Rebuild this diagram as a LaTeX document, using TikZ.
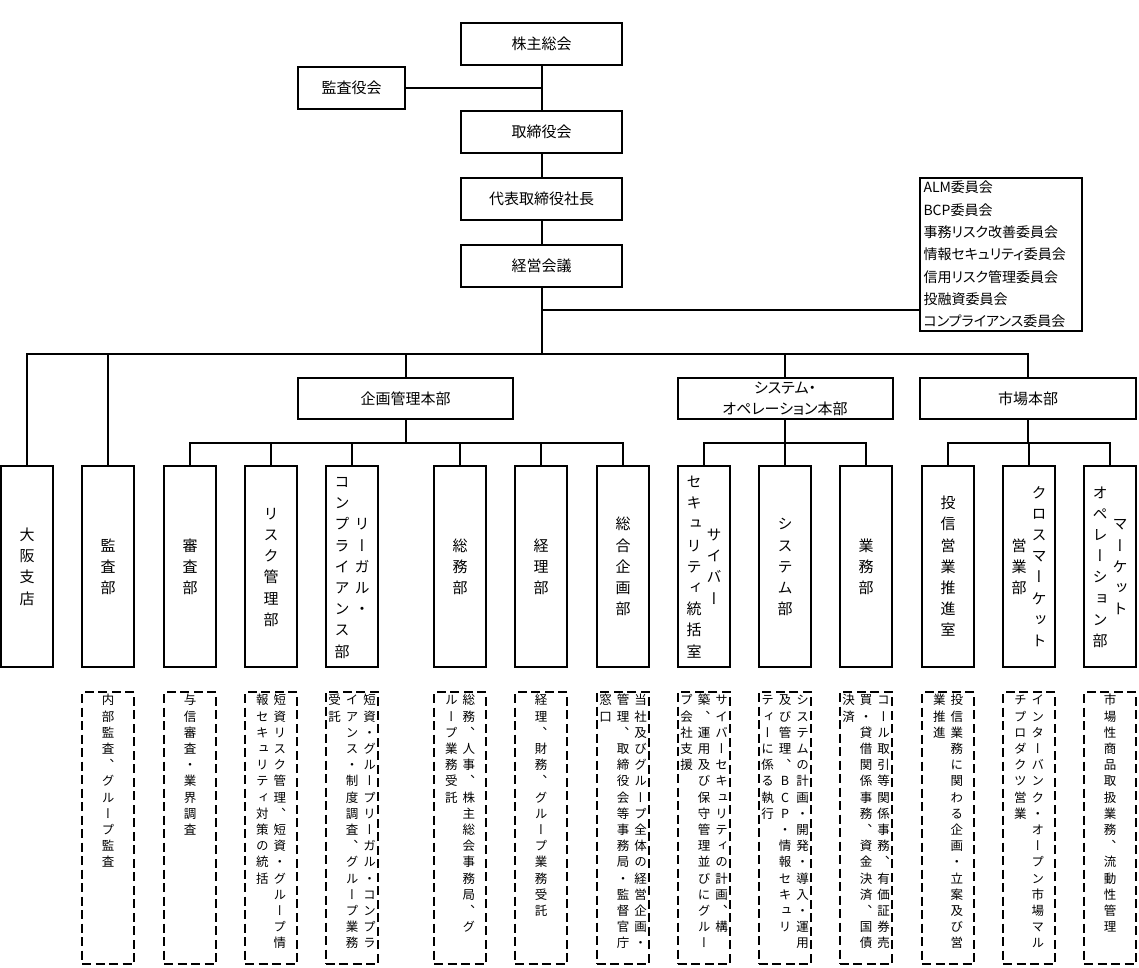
\documentclass[tikz,border=0pt]{standalone}
\usepackage{fontspec}
\newfontfamily\jpv[RawFeature=+vert]{Noto Sans CJK JP}
\newfontfamily\jph[RawFeature=+palt]{Noto Sans CJK JP}
\newlength\vcw \newlength\vph \newlength\vcup
\def\vstackAux#1{\ifx\relax#1\else\hbox to\vcw{\vrule height\vcup depth\dimexpr\vph-\vcup\relax width0pt\hss#1\hss}\expandafter\vstackAux\fi}
\newcommand\vC[1]{$\vcenter{\offinterlineskip\setlength\vcup{\dimexpr\vph/2+0.38em\relax}\vstackAux#1\relax}$}
\newcommand\vT[1]{\vtop{\offinterlineskip\setlength\vcup{\dimexpr\vph/2+0.38em\relax}\vstackAux#1\relax}}
\newcommand\desc[1]{\vbox to 272pt{\hbox{#1}\vss}}
\tikzset{
  conn/.style={line width=2pt},
  hlab/.style={draw, line width=2pt, inner sep=0pt, align=center,
    font=\jph\fontsize{15pt}{21pt}\selectfont},
  topbox/.style={hlab, minimum width=161pt, minimum height=42pt},
  hqbox/.style={hlab, minimum width=215pt, minimum height=41pt},
  dept/.style={draw, line width=2pt, minimum width=52pt, minimum height=201pt, inner sep=0pt,
    font={\jpv\fontsize{15pt}{21pt}\selectfont\setlength\vph{21.2pt}\setlength\vcw{20pt}}},
  descbox/.style={draw, line width=2pt, dash pattern=on 9pt off 4.5pt, minimum width=52pt,
    minimum height=272pt, inner sep=0pt, anchor=north,
    font={\jpv\fontsize{12.5pt}{16pt}\selectfont\setlength\vph{16.2pt}\setlength\vcw{17.5pt}}},
}
\begin{document}
\begin{tikzpicture}[x=1pt,y=-1pt]
\useasboundingbox[fill=white] (0,0) rectangle (1139,967);

% top chain
\node[topbox] (gm) at (541.5,44) {株主総会};
\node[hlab, minimum width=107pt, minimum height=42pt] (auditors) at (351.5,88) {監査役会};
\node[topbox] (board) at (541.5,132) {取締役会};
\node[topbox] (pres) at (541.5,199) {代表取締役社長};
\node[topbox] (mgmt) at (541.5,266) {経営会議};
\node[draw, line width=2pt, inner xsep=3.5pt, inner ysep=0pt, text width=155pt, align=left,
  minimum height=153pt, font=\jph\fontsize{14pt}{22.3pt}\selectfont] (comm) at (1001,254.5)
  {ALM委員会\\BCP委員会\\事務リスク改善委員会\\情報セキュリティ委員会\\信用リスク管理委員会\\投融資委員会\\コンプライアンス委員会};

% headquarters
\node[hqbox] (hq1) at (405.5,398.5) {企画管理本部};
\node[hqbox] (hq2) at (785,398.5) {システム・\\オペレーション本部};
\node[hqbox, minimum width=216pt] (hq3) at (1028,398.5) {市場本部};

% departments
\node[dept] (osaka)  at (27,566.5)   {\vC{大阪支店}};
\node[dept] (kansa)  at (108,566.5)  {\vC{監査部}};
\node[dept] (shinsa) at (190,566.5)  {\vC{審査部}};
\node[dept] (risk)   at (271,566.5)  {\vC{リスク管理部}};
\node[dept] (legal)  at (352,566.5)  {\vC{コンプライアンス部}\vC{リーガル・}};
\node[dept] (somu)   at (460,566.5)  {\vC{総務部}};
\node[dept] (keiri)  at (541,566.5)  {\vC{経理部}};
\node[dept] (sogo)   at (623,566.5)  {\vC{総合企画部}};
\node[dept] (cyber)  at (704,566.5)  {\vC{セキュリティ統括室}\vC{サイバー}};
\node[dept] (system) at (785,566.5)  {\vC{システム部}};
\node[dept] (gyomu)  at (866,566.5)  {\vC{業務部}};
\node[dept] (toshin) at (948,566.5)  {\vC{投信営業推進室}};
\node[dept] (cross)  at (1029,566.5) {\vC{営業部}\vC{クロスマーケット}};
\node[dept] (mops)   at (1110,566.5) {\vC{オペレーション部}\vC{マーケット}};

% descriptions
\node[descbox] (dkansa)  at (108,691)  {\desc{\vT{内部監査、グループ監査}}};
\node[descbox] (dshinsa) at (190,691)  {\desc{\vT{与信審査・業界調査}}};
\node[descbox] (drisk)   at (271,691)  {\desc{\vT{報セキュリティ対策の統括}\vT{短資リスク管理、短資・グループ情}}};
\node[descbox] (dlegal)  at (352,691)  {\desc{\vT{受託}\vT{イアンス・制度調査、グループ業務}\vT{短資・グループリーガル・コンプラ}}};
\node[descbox] (dsomu)   at (460,691)  {\desc{\vT{ループ業務受託}\vT{総務、人事、株主総会事務局、グ}}};
\node[descbox] (dkeiri)  at (541,691)  {\desc{\vT{経理、財務、グループ業務受託}}};
\node[descbox] (dsogo)   at (623,691)  {\desc{\vT{窓口}\vT{管理、取締役会等事務局・監督官庁}\vT{当社及びグループ全体の経営企画・}}};
\node[descbox] (dcyber)  at (704,691)  {\desc{\vT{プ会社支援}\vT{築、運用及び保守管理並びにグルー}\vT{サイバーセキュリティの計画、構}}};
\node[descbox] (dsystem) at (785,691)  {\desc{\vT{ティーに係る執行}\vT{及び管理、BCP・情報セキュリ}\vT{システムの計画・開発・導入・運用}}};
\node[descbox] (dgyomu)  at (866,691)  {\desc{\vT{決済}\vT{買・貸借関係事務、資金決済、国債}\vT{コール取引等関係事務、有価証券売}}};
\node[descbox] (dtoshin) at (948,691)  {\desc{\vT{業推進}\vT{投信業務に関わる企画・立案及び営}}};
\node[descbox] (dcross)  at (1029,691) {\desc{\vT{チプロダクツ営業}\vT{インターバンク・オープン市場マル}}};
\node[descbox] (dmops)   at (1110,691) {\desc{\vT{市場性商品取扱業務、流動性管理}}};

% connectors
\coordinate (bus) at (541.5,354);
\coordinate (cj) at (541.5,310);
\coordinate (sb) at (0,443);
\draw[conn] (gm.south) -- (board.north);
\draw[conn] (auditors.east) -- (auditors.east -| gm.south);
\draw[conn] (board.south) -- (pres.north);
\draw[conn] (pres.south) -- (mgmt.north);
\draw[conn] (mgmt.south) -- (bus);
\draw[conn] (cj) -- (cj -| comm.west);
\draw[conn] (osaka.north) |- (hq3.north |- bus) -- (hq3.north);
\draw[conn] (kansa.north) -- (kansa.north |- bus);
\draw[conn] (hq1.north) -- (hq1.north |- bus);
\draw[conn] (hq2.north) -- (hq2.north |- bus);
% planning HQ
\draw[conn] (hq1.south) -- (hq1.south |- sb);
\draw[conn] (shinsa.north) |- (sogo.north |- sb) -- (sogo.north);
\foreach \d in {risk,legal,somu,keiri} \draw[conn] (\d.north) -- (\d.north |- sb);
% system HQ
\draw[conn] (hq2.south) -- (hq2.south |- sb);
\draw[conn] (cyber.north) |- (gyomu.north |- sb) -- (gyomu.north);
\draw[conn] (system.north) -- (system.north |- sb);
% market HQ
\draw[conn] (hq3.south) -- (hq3.south |- sb);
\draw[conn] (toshin.north) |- (mops.north |- sb) -- (mops.north);
\draw[conn] (cross.north) -- (cross.north |- sb);
\end{tikzpicture}
\end{document}
